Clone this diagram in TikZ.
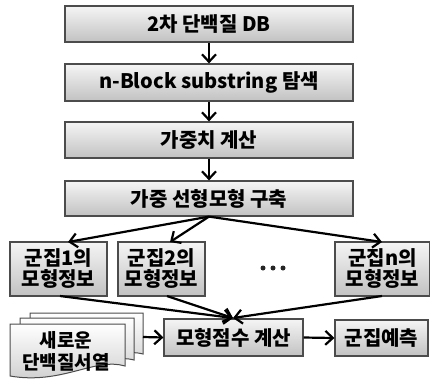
\documentclass[tikz,border=0pt]{standalone}
\usepackage{fontspec}
\setmainfont{Noto Sans CJK KR}
\usetikzlibrary{arrows.meta}
\begin{document}
\begin{tikzpicture}[x=1pt,y=-1pt,
  box/.style={draw=black!70, line width=1.2pt, top color=black!4, bottom color=black!24,
    inner sep=0pt, font=\bfseries\fontsize{20}{21}\selectfont, align=center},
  arr/.style={line width=2.2pt, -{Straight Barb[length=7.5pt,width=14pt,line width=2.2pt]}},
  doc/.style={draw=black!70, line width=1pt, top color=white, bottom color=black!20},
  dot/.style={circle, fill=black!85, inner sep=0pt, minimum size=5pt}]
\useasboundingbox (0,0) rectangle (430,381);
\node[box, minimum width=288pt, minimum height=36pt] (b1) at (209,24) {2차 단백질 DB};
\node[box, minimum width=288pt, minimum height=37pt] (b2) at (209,82.5) {n-Block substring 탐색};
\node[box, minimum width=288pt, minimum height=36pt] (b3) at (209,140) {가중치 계산};
\node[box, minimum width=288pt, minimum height=35pt] (b4) at (209,198.5) {가중 선형모형 구축};
\node[box, minimum width=97pt, minimum height=54pt, text width=97pt] (c1) at (58.5,269) {군집1의\\모형정보};
\node[box, minimum width=87pt, minimum height=54pt, text width=87pt] (c2) at (161.5,269) {군집2의\\모형정보};
\node[box, minimum width=95pt, minimum height=54pt, text width=95pt] (cn) at (382.5,269) {군집n의\\모형정보};
\node[dot] (d1) at (263,268) {};
\node[dot] (d2) at (273,268) {};
\node[dot] (d3) at (283,268) {};
\node[box, minimum width=139pt, minimum height=37pt] (s) at (233.5,337.5) {모형점수 계산};
\node[box, minimum width=93pt, minimum height=36pt] (p) at (381.5,338) {군집예측};
% document stack
\path[doc] (30,313) -- (143,313) -- (143,354) .. controls (112,346) and (82,372) .. (30,364) -- cycle;
\path[doc] (20,318) -- (134,318) -- (134,360) .. controls (103,352) and (73,378) .. (20,370) -- cycle;
\path[doc] (10,324) -- (125,324) -- (125,366) .. controls (95,357) and (62,385) .. (10,376) -- cycle;
\node[font=\bfseries\fontsize{19}{22}\selectfont, align=center, inner sep=0pt] (d) at (66,351) {새로운\\단백질서열};
\coordinate (dr) at (143,337);
% arrows
\draw[arr] (b1.south) -- (b2.north);
\draw[arr] (b2.south) -- (b3.north);
\draw[arr] (b3.south) -- (b4.north);
\coordinate (c1t) at (68,242);
\coordinate (c2t) at (170,242);
\coordinate (cnt) at (382,242);
\draw[arr] (b4.south) -- (c1t);
\draw[arr] (b4.south) -- (c2t);
\draw[arr] (b4.south) -- (cnt);
\coordinate (c1b) at (60,296);
\coordinate (c2b) at (167,296);
\coordinate (cnb) at (382,296);
\coordinate (st) at (233,318);
\draw[arr] (c1b) -- (st);
\draw[arr] (c2b) -- (st);
\draw[arr] (cnb) -- (st);
\draw[arr] (dr) -- (s.west);
\draw[arr] (s.east) -- (p.west);
\end{tikzpicture}
\end{document}
